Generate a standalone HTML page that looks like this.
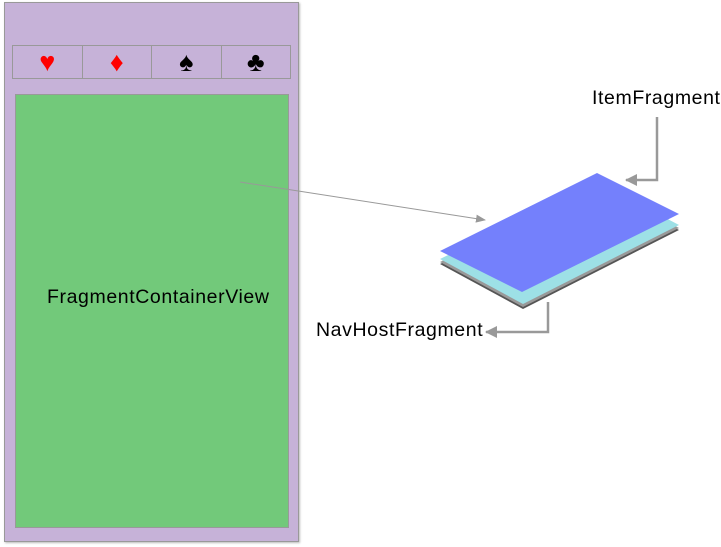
<!DOCTYPE html>
<html><head><meta charset="utf-8"><style>
body{margin:0;background:#fff;width:721px;height:547px;overflow:hidden;position:relative;font-family:"Liberation Sans",sans-serif}
.abs{position:absolute}
.lbl{font-size:19.5px;letter-spacing:0.6px;color:#000;white-space:nowrap}
.tab{flex:1;border:1px solid #999;font-size:27px;text-align:center;line-height:32px}
</style></head><body>
<div class="abs" style="left:4px;top:2px;width:293px;height:538px;background:#c6b2d8;border:1px solid #999;box-shadow:1px 1px 2px #bbb"></div>
<div class="abs" style="left:12px;top:45px;width:279px;height:34px;display:flex">
 <div class="tab" style="color:#f00">♥</div>
 <div class="tab" style="border-left:none;color:#f00">♦</div>
 <div class="tab" style="border-left:none;color:#000">♠</div>
 <div class="tab" style="border-left:none;color:#000">♣</div>
</div>
<div class="abs" style="left:15px;top:94px;width:272px;height:432px;background:#72c97a;border:1px solid #999"></div>
<div class="abs lbl" style="left:47px;top:286px">FragmentContainerView</div>
<svg class="abs" style="left:0;top:0" width="721" height="547">
 <defs><marker id="ah" markerWidth="12" markerHeight="12" refX="11" refY="6" orient="auto" markerUnits="userSpaceOnUse"><path d="M0,0L12,6L0,12z" fill="#999"/></marker>
 <marker id="ah2" markerWidth="10" markerHeight="8" refX="9" refY="4" orient="auto" markerUnits="userSpaceOnUse"><path d="M0,0L10,4L0,8z" fill="#999"/></marker></defs>
 <line x1="240" y1="182" x2="485" y2="220" stroke="#999" stroke-width="1" marker-end="url(#ah2)"/>
 <polygon points="440,264 597,187 679,230 523,309" fill="#555"/>
 <polygon points="440,262 597,185 679,228 523,307" fill="#999"/>
 <polygon points="440,259 597,182 679,225 523,304" fill="#9de0e6"/>
 <polygon points="597,173 679,214 522,292 440,251" fill="#7480fc"/>
 <polyline points="657,117 657,180 626,180" fill="none" stroke="#999" stroke-width="2.5" marker-end="url(#ah)"/>
 <polyline points="548,302 548,332 486,332" fill="none" stroke="#999" stroke-width="2.5" marker-end="url(#ah)"/>
</svg>
<div class="abs lbl" style="left:592px;top:87px">ItemFragment</div>
<div class="abs lbl" style="left:316px;top:319px">NavHostFragment</div>
</body></html>
